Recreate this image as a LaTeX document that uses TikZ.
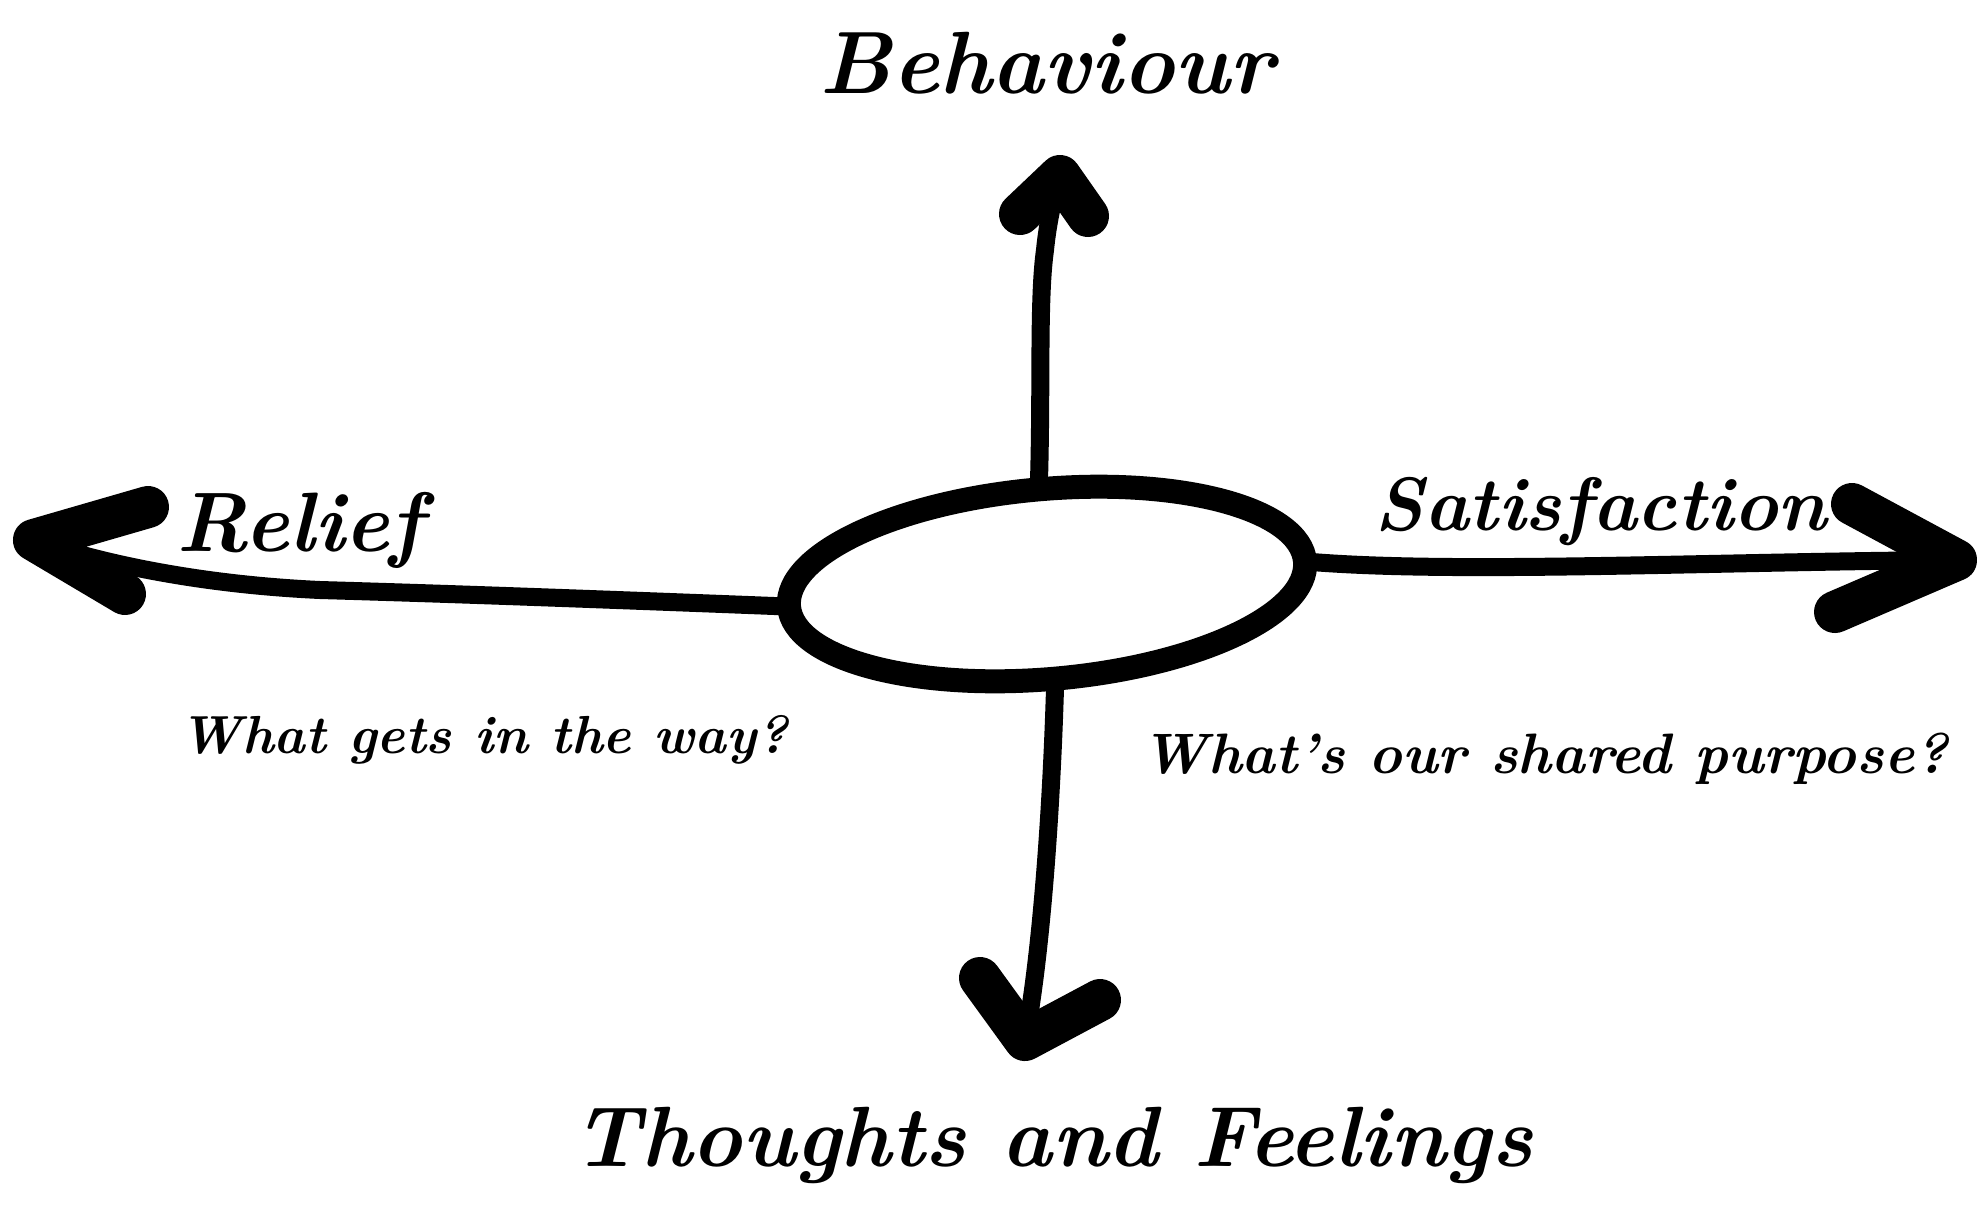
\documentclass[tikz,border=0pt]{standalone}
\usepackage{graphicx}
\usetikzlibrary{shapes.geometric}
\newcommand{\fitw}[2]{\resizebox{#1}{!}{#2}}
\begin{document}
\begin{tikzpicture}[x=0.5pt,y=-0.5pt,
  shaft/.style={line width=9pt,line cap=round},
  head/.style={line width=21pt,line cap=round,line join=round},
  lbl/.style={inner sep=0pt,font=\bfseries\itshape}]
\useasboundingbox (0,0) rectangle (1978,1206);
\node[draw, ellipse, line width=12pt, minimum width=259pt, minimum height=95pt, inner sep=0pt, outer sep=0pt, rotate=5] (c) at (1047,584) {};
% coordinates
\coordinate (upTip) at (1060,176);
\coordinate (upL) at (1020,214);
\coordinate (upR) at (1088,216);
\coordinate (dTip) at (1025,1040);
\coordinate (dL) at (980,978);
\coordinate (dR) at (1100,1000);
\coordinate (lTip) at (34,540);
\coordinate (lU) at (148,507);
\coordinate (lD) at (125,594);
\coordinate (rTip) at (1956,560);
\coordinate (rU) at (1852,504);
\coordinate (rD) at (1835,612);
% shafts
\draw[shaft] (c.north) .. controls (1042,390) and (1038,300) .. (1045,250) .. controls (1048,220) and (1054,195) .. (upTip);
\draw[shaft] (c.south) .. controls (1052,800) and (1042,950) .. (dTip);
\draw[shaft] (c.west) .. controls (620,600) and (460,594) .. (320,590) .. controls (190,584) and (90,560) .. (lTip);
\draw[shaft] (c.east) .. controls (1450,574) and (1700,562) .. (rTip);
% heads
\draw[head] (upL) -- (upTip) -- (upR);
\draw[head] (dL) -- (dTip) -- (dR);
\draw[head] (lU) -- (lTip) -- (lD);
\draw[head] (rU) -- (rTip) -- (rD);
% labels
\node[lbl] (beh) at (1047,63) {\fitw{227pt}{Behaviour}};
\node[lbl] (rel) at (300,530) {\fitw{123pt}{Relief}};
\node[lbl] (sat) at (1601,512) {\fitw{226pt}{Satisfaction}};
\node[lbl] (way) at (484,740) {\fitw{304pt}{What gets in the way?}};
\node[lbl] (pur) at (1545,759) {\fitw{403pt}{What's our shared purpose?}};
\node[lbl] (tf) at (1053,1145) {\fitw{480pt}{Thoughts and Feelings}};
\end{tikzpicture}
\end{document}
